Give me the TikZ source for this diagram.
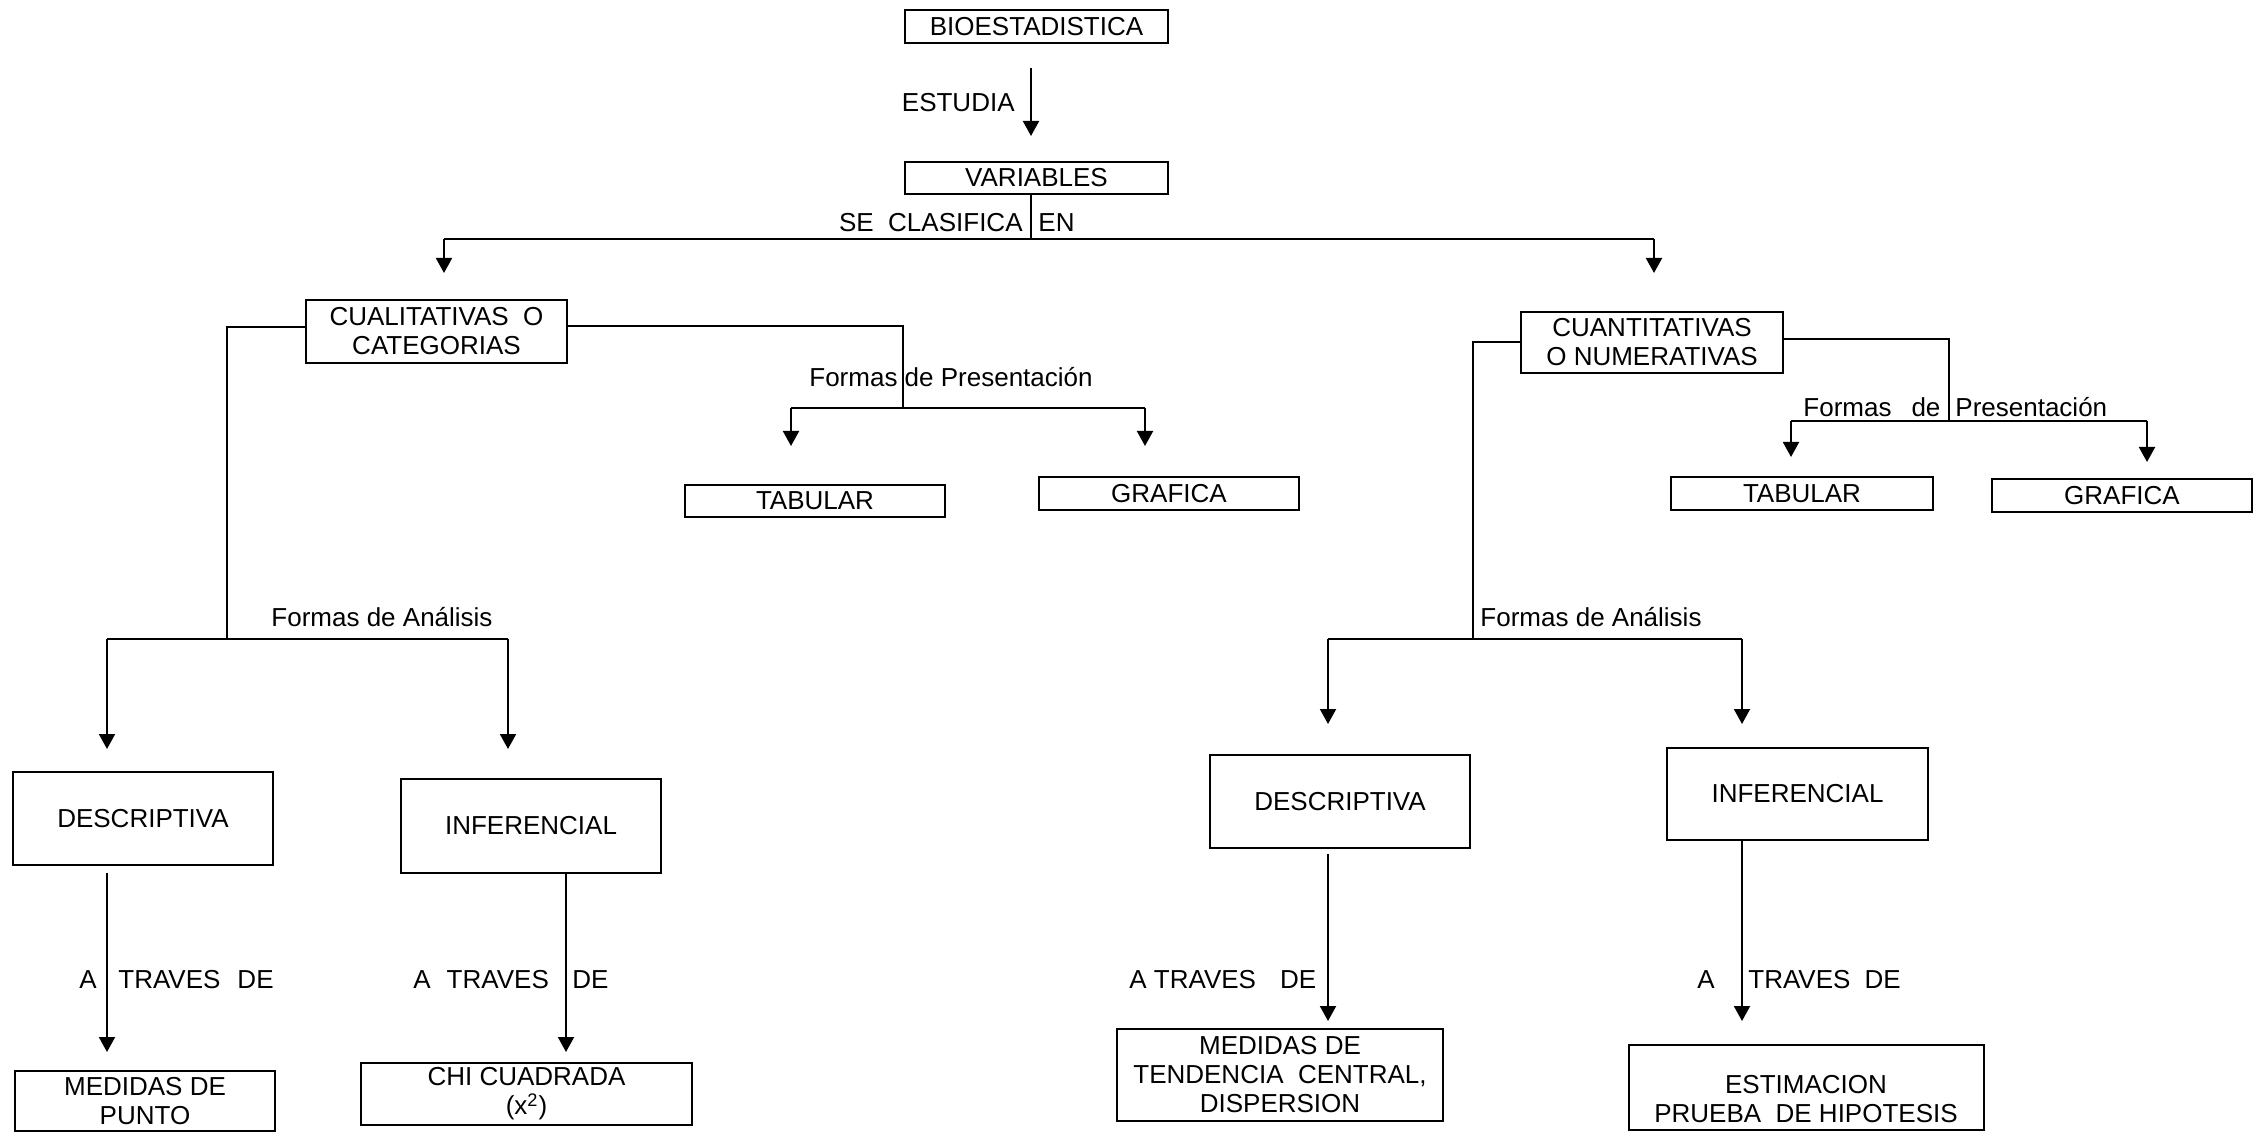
\documentclass[tikz,border=0pt]{standalone}
\usepackage{fontspec}
\setmainfont{Liberation Sans}
\usetikzlibrary{arrows.meta}
\newcommand\dfont{\fontsize{13}{14.5}\selectfont}
\begin{document}
\begin{tikzpicture}[x=0.5pt,y=-0.5pt,
  box/.style={draw, line width=1pt, inner sep=0pt, align=center, font=\dfont},
  ln/.style={line width=1pt},
  arr/.style={line width=1pt, -{Triangle[width=8pt,length=7.5pt]}},
  lbl/.style={font=\dfont, inner sep=0pt}]
\useasboundingbox (0,0) rectangle (2260,1133);

% boxes
\node[box, minimum width=131.5pt, minimum height=16.5pt] (bio) at (1036.5,26.5) {BIOESTADISTICA};
\node[box, minimum width=131.5pt, minimum height=16pt] (var) at (1036.5,178) {VARIABLES};
\node[box, minimum width=130.5pt, minimum height=31.5pt] (cual) at (436.5,331.5) {CUALITATIVAS\ \ O\\CATEGORIAS};
\node[box, minimum width=131pt, minimum height=30.5pt] (cuan) at (1652,342.5) {CUANTITATIVAS\\O NUMERATIVAS};
\node[box, minimum width=130pt, minimum height=16pt] (tab1) at (815,501) {TABULAR};
\node[box, minimum width=130pt, minimum height=16.5pt] (gra1) at (1169,493.5) {GRAFICA};
\node[box, minimum width=131pt, minimum height=16.5pt] (tab2) at (1802,493.5) {TABULAR};
\node[box, minimum width=130pt, minimum height=16.5pt] (gra2) at (2122,495.5) {GRAFICA};
\node[box, minimum width=130pt, minimum height=46.5pt] (des1) at (143,818.5) {DESCRIPTIVA};
\node[box, minimum width=130pt, minimum height=47pt] (inf1) at (531,826) {INFERENCIAL};
\node[box, minimum width=130pt, minimum height=46.5pt] (des2) at (1340,801.5) {DESCRIPTIVA};
\node[box, minimum width=130.5pt, minimum height=46pt] (inf2) at (1797.5,794) {INFERENCIAL};
\node[box, minimum width=130pt, minimum height=30pt] (med1) at (145,1101) {MEDIDAS DE\\PUNTO};
\node[box, minimum width=165.5pt, minimum height=31pt] (chi) at (526.5,1094) {CHI CUADRADA\\(x\textsuperscript{2})};
\node[box, minimum width=163pt, minimum height=46pt] (med2) at (1280,1075) {MEDIDAS DE\\TENDENCIA\ \ CENTRAL,\\DISPERSION};
\node[box, minimum width=177.5pt, minimum height=42.5pt] (est) at (1806.5,1087.5) {};
\node[lbl, align=center] (esttxt) at (1806,1099) {ESTIMACION\\PRUEBA\ \ DE HIPOTESIS};

% top
\draw[arr, shorten <=12pt, shorten >=12.5pt] ([xshift=-2.75pt]bio.south) -- ([xshift=-2.75pt]var.north);
\node[lbl, anchor=east] (estudia) at (1015,103) {ESTUDIA};
\coordinate (vj) at (1031,239);
\coordinate (hl) at (444,239);
\coordinate (hr) at (1654,239);
\draw[ln] ([xshift=-2.75pt]var.south) -- (vj);
\draw[ln] (hl) -- (hr);
\draw[arr, shorten >=13pt] (hl) -- (hl |- cual.north);
\draw[arr, shorten >=19pt] (hr) -- (hr |- cuan.north);
\node[lbl, anchor=east] (secl) at (1023,223) {SE\ \ CLASIFICA};
\node[lbl, anchor=west] (en) at (1038,223) {EN};

% left presentation
\coordinate (qp) at (903,408);
\coordinate (qpL) at (791,408);
\coordinate (qpR) at (1145,408);
\draw[ln] ([yshift=2.75pt]cual.east) -| (qp);
\draw[ln] (qpL) -- (qpR);
\draw[arr, shorten >=19pt] (qpL) -- (qpL |- tab1.north);
\draw[arr, shorten >=15pt] (qpR) -- (qpR |- gra1.north);
\node[lbl] (fp1) at (951,377) {Formas de Presentación};

% right presentation
\coordinate (np) at (1949,421);
\coordinate (npL) at (1791,421);
\coordinate (npR) at (2147,421);
\draw[ln] ([yshift=1.75pt]cuan.east) -| (np);
\draw[ln] (npL) -- (npR);
\draw[arr, shorten >=9.5pt] (npL) -- (npL |- tab2.north);
\draw[arr, shorten >=8pt] (npR) -- (npR |- gra2.north);
\node[lbl, anchor=west] (fp2) at (1803,407) {Formas\hspace{10pt}de\hspace{7.5pt}Presentación};

% left analysis
\coordinate (qa) at (227,639);
\coordinate (qaL) at (107,639);
\coordinate (qaR) at (508,639);
\draw[ln] ([yshift=2.25pt]cual.west) -| (qa);
\draw[ln] (qaL) -- (qaR);
\draw[arr, shorten >=11pt] (qaL) -- (qaL |- des1.north);
\draw[arr, shorten >=14.5pt] (qaR) -- (qaR |- inf1.north);
\node[lbl] (fa1) at (382,617) {Formas de Análisis};

% right analysis
\coordinate (na) at (1473,639);
\coordinate (naL) at (1328,639);
\coordinate (naR) at (1742,639);
\draw[ln] (cuan.west) -| (na);
\draw[ln] (naL) -- (naR);
\draw[arr, shorten >=15pt] (naL) -- (naL |- des2.north);
\draw[arr, shorten >=11.5pt] (naR) -- (naR |- inf2.north);
\node[lbl] (fa2) at (1591,617) {Formas de Análisis};

% bottom arrows
\draw[arr, shorten <=3.5pt, shorten >=9pt] ([xshift=-18pt]des1.south) -- ([xshift=-18pt]des1.south |- med1.north);
\draw[arr, shorten >=5pt] ([xshift=17.5pt]inf1.south) -- ([xshift=17.5pt]inf1.south |- chi.north);
\draw[arr, shorten <=2.5pt, shorten >=3.5pt] ([xshift=-6pt]des2.south) -- ([xshift=-6pt]des2.south |- med2.north);
\draw[arr, shorten >=11.5pt] ([xshift=-27.75pt]inf2.south) -- ([xshift=-27.75pt]inf2.south |- est.north);

% A TRAVES DE labels
\node[lbl, anchor=west] (a1) at (79,980) {A};
\node[lbl, anchor=west] (t1) at (118,980) {TRAVES\hspace{8.5pt}DE};
\node[lbl, anchor=west] (a2) at (413,980) {A\hspace{8pt}TRAVES};
\node[lbl, anchor=west] (t2) at (572,980) {DE};
\node[lbl, anchor=west] (a3) at (1129,980) {A TRAVES\hspace{12pt}DE};
\node[lbl, anchor=west] (a4) at (1697,980) {A};
\node[lbl, anchor=west] (t4) at (1748,980) {TRAVES\hspace{7pt}DE};
\end{tikzpicture}
\end{document}
